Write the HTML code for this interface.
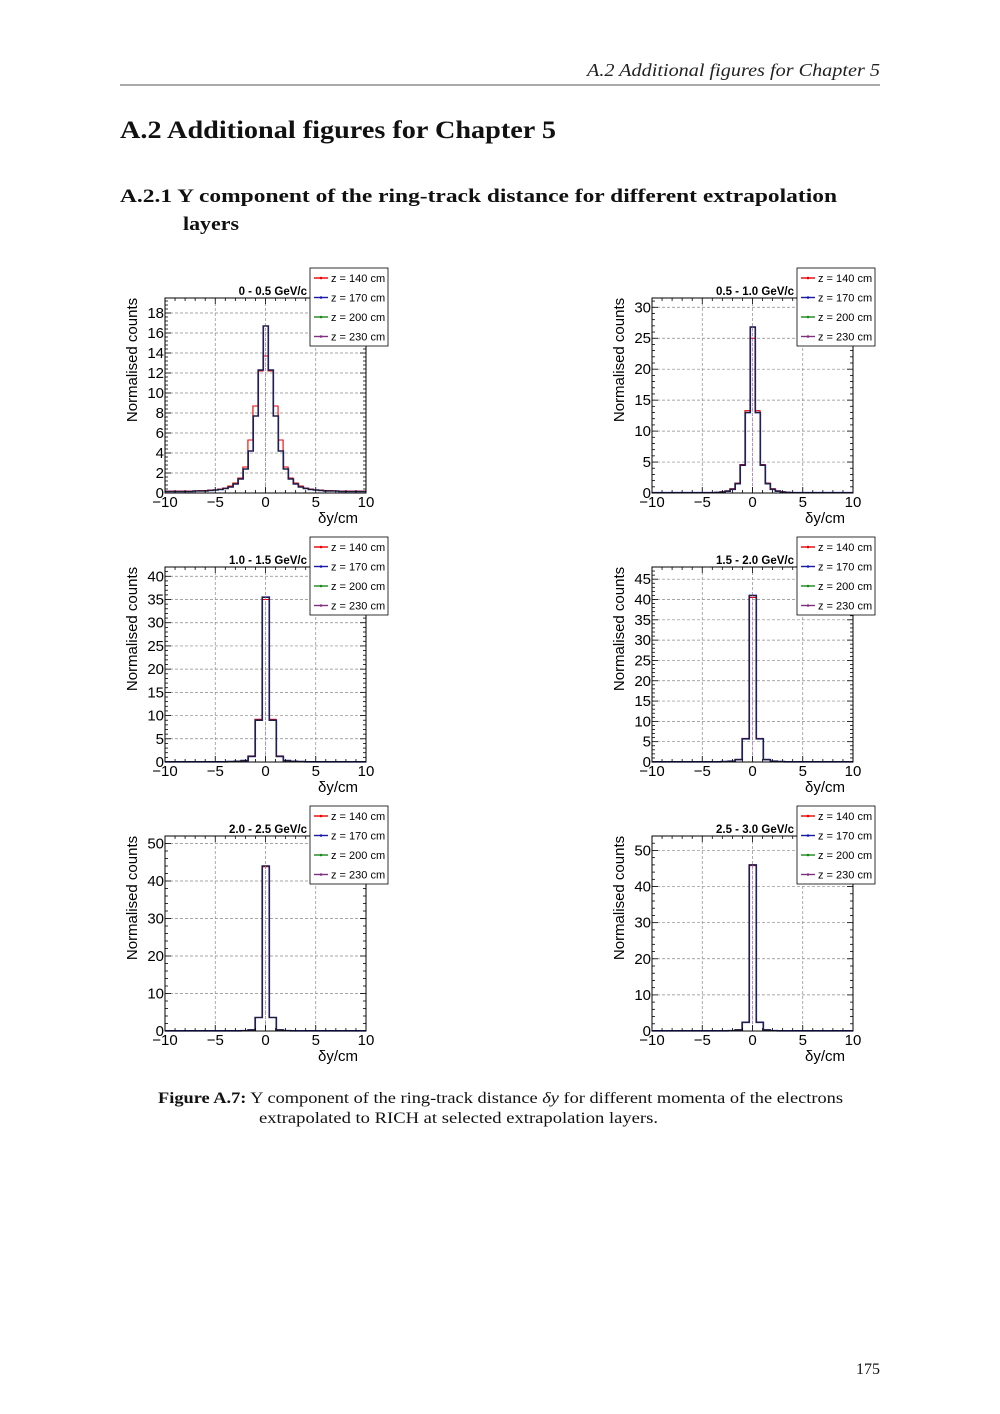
<!DOCTYPE html>
<html><head><meta charset="utf-8"><style>
html,body{margin:0;padding:0;background:#fff;}
svg{display:block;}
.serif{font-family:"Liberation Serif",serif;}
</style></head><body>
<svg id="pg" width="1000" height="1414" viewBox="0 0 1000 1414" xmlns="http://www.w3.org/2000/svg">
<text x="587" y="76" textLength="293" lengthAdjust="spacingAndGlyphs" class="serif" font-size="18" font-style="italic" fill="#222">A.2  Additional figures for Chapter 5</text>
<line x1="120" y1="85" x2="880" y2="85" stroke="#555" stroke-width="1"/>
<text x="120" y="138" textLength="436" lengthAdjust="spacingAndGlyphs" class="serif" font-size="25" font-weight="bold" fill="#111">A.2  Additional figures for Chapter 5</text>
<text x="120" y="202" textLength="717" lengthAdjust="spacingAndGlyphs" class="serif" font-size="19" font-weight="bold" fill="#111">A.2.1  Y component of the ring-track distance for different extrapolation</text>
<text x="183" y="230" textLength="56" lengthAdjust="spacingAndGlyphs" class="serif" font-size="19" font-weight="bold" fill="#111">layers</text>
<text x="158" y="1103" textLength="685" lengthAdjust="spacingAndGlyphs" class="serif" font-size="15.5" fill="#111"><tspan font-weight="bold">Figure A.7:</tspan> Y component of the ring-track distance <tspan font-style="italic">δy</tspan> for different momenta of the electrons</text>
<text x="259" y="1123" textLength="399" lengthAdjust="spacingAndGlyphs" class="serif" font-size="15.5" fill="#111">extrapolated to RICH at selected extrapolation layers.</text>
<text x="880" y="1374" text-anchor="end" class="serif" font-size="16" fill="#111">175</text>
<g id="plots"></g>
</svg>
<script>
var NS="http://www.w3.org/2000/svg";
var g=document.getElementById('plots');
function el(t,a,txt){var e=document.createElementNS(NS,t);for(var k in a)e.setAttribute(k,a[k]);if(txt!==undefined)e.textContent=txt;g.appendChild(e);return e;}
var panels=[
 {dx:0,dy:0,title:"0 - 0.5 GeV/c",ymax:19.5,yt:[0,2,4,6,8,10,12,14,16,18],w:0.5,
  blk:[16.7,12.3,7.7,4.2,2.4,1.4,0.9,0.6,0.45,0.35,0.3,0.25,0.2,0.2,0.2,0.15,0.15,0.15,0.15,0.15],
  red:[13.7,12.2,8.7,5.3,2.6,1.5,1.0,0.7,0.5,0.4,0.3,0.3,0.25,0.25,0.2,0.2,0.2,0.2,0.2,0.2]},
 {dx:487,dy:0,title:"0.5 - 1.0 GeV/c",ymax:31.5,yt:[0,5,10,15,20,25,30],w:0.5,
  blk:[26.8,13,4.5,1.5,0.6,0.3,0.15,0.1,0.05,0.05],
  red:[25,13.3,4.6,1.6,0.7,0.35,0.2,0.1,0.05,0.05]},
 {dx:0,dy:269,title:"1.0 - 1.5 GeV/c",ymax:42,yt:[0,5,10,15,20,25,30,35,40],w:0.7,
  blk:[35.5,9,1.2,0.3,0.15,0.1,0.05],red:[35,9.2,1.3,0.3,0.15,0.1,0.05]},
 {dx:487,dy:269,title:"1.5 - 2.0 GeV/c",ymax:48,yt:[0,5,10,15,20,25,30,35,40,45],w:0.7,
  blk:[41,5.7,0.6,0.2,0.1,0.05],red:[40.5,5.8,0.6,0.2,0.1,0.05]},
 {dx:0,dy:538,title:"2.0 - 2.5 GeV/c",ymax:52,yt:[0,10,20,30,40,50],w:0.7,
  blk:[44,3.6,0.3,0.1,0.05],red:[43.8,3.6,0.3,0.1,0.05]},
 {dx:487,dy:538,title:"2.5 - 3.0 GeV/c",ymax:54,yt:[0,10,20,30,40,50],w:0.7,
  blk:[46,2.4,0.3,0.1,0.05],red:[45.8,2.4,0.3,0.1,0.05]}
];
panels.forEach(function(p){
 var x0=165+p.dx,x1=366+p.dx,y0=493+p.dy,y1=298+p.dy;
 var X=function(v){return x0+(v+10)*(x1-x0)/20;};
 var Y=function(v){return y0-v*(y0-y1)/p.ymax;};
 [-5,0,5].forEach(function(v){el('line',{x1:X(v),x2:X(v),y1:y1,y2:y0,stroke:'#888','stroke-width':0.7,'stroke-dasharray':'3,2'});});
 p.yt.forEach(function(v){if(v>0)el('line',{x1:x0,x2:x1,y1:Y(v),y2:Y(v),stroke:'#888','stroke-width':0.7,'stroke-dasharray':'3,2'});});
 function hist(vals,col,sh,sw){
  var n=Math.round(10/p.w)+1,pts=[];
  for(var i=-n;i<=n;i++){var a=Math.abs(i);var v=a<vals.length?vals[a]:(vals[vals.length-1]);
   var l=i*p.w-p.w/2+sh,r=i*p.w+p.w/2+sh;if(r<-10||l>10)continue;l=Math.max(l,-10);r=Math.min(r,10);pts.push([l,r,v]);}
  var d="M"+X(pts[0][0])+","+Y(pts[0][2]);
  pts.forEach(function(q,k){if(k>0)d+=" L"+X(q[0])+","+Y(q[2]);d+=" L"+X(q[1])+","+Y(q[2]);});
  el('path',{d:d,fill:'none',stroke:col,'stroke-width':sw});
 }
 hist(p.red,'#e00',0,1.1);
 hist(p.blk,'#1a1aa8',0.03,1.6);
 hist(p.blk,'#222',0,1.0);
 el('line',{x1:X(0),x2:X(0),y1:Y(p.blk[0]),y2:y0,stroke:'#c060c0','stroke-width':0.6,'stroke-dasharray':'1,1'});
 el('rect',{x:x0,y:y1,width:x1-x0,height:y0-y1,fill:'none',stroke:'#000','stroke-width':1});
 for(var v=-10;v<=10;v+=1){var L=(v%5==0)?6:3;el('line',{x1:X(v),x2:X(v),y1:y0,y2:y0-L,stroke:'#000','stroke-width':0.8});el('line',{x1:X(v),x2:X(v),y1:y1,y2:y1+L,stroke:'#000','stroke-width':0.8});}
 [-10,-5,0,5,10].forEach(function(v){el('text',{x:X(v),y:y0+14,'text-anchor':'middle','font-size':15,'font-family':'Liberation Sans,sans-serif'},v<0?'\u2212'+(-v):''+v);});
 var st=p.yt[1]-p.yt[0];
 for(var v=0;v<=p.ymax;v+=st/5){var major=Math.abs(v/st-Math.round(v/st))<0.01;var L=major?6:3;el('line',{x1:x0,x2:x0+L,y1:Y(v),y2:Y(v),stroke:'#000','stroke-width':0.8});el('line',{x1:x1,x2:x1-L,y1:Y(v),y2:Y(v),stroke:'#000','stroke-width':0.8});}
 p.yt.forEach(function(v){el('text',{x:x0-1,y:Y(v)+5,'text-anchor':'end','font-size':15,'font-family':'Liberation Sans,sans-serif'},''+v);});
 el('text',{x:x1-28,y:y0+30,'text-anchor':'middle','font-size':15,'font-family':'Liberation Sans,sans-serif'},'δy/cm');
 var ly=y1+62;
 el('text',{x:137+p.dx,y:ly,'text-anchor':'middle','font-size':15,'font-family':'Liberation Sans,sans-serif',transform:'rotate(-90 '+(137+p.dx)+' '+ly+')'},'Normalised counts');
 el('text',{x:x1-59,y:y1-3,'text-anchor':'end','font-size':11.5,'font-weight':'bold','font-family':'Liberation Sans,sans-serif'},p.title);
 var lx=310+p.dx,lyy=268+p.dy;
 el('rect',{x:lx,y:lyy,width:78,height:78,fill:'#fff',stroke:'#000','stroke-width':0.8});
 var cols=['#e00','#1a1aa8','#1a8a1a','#803080'],labs=['z = 140 cm','z = 170 cm','z = 200 cm','z = 230 cm'];
 for(var i=0;i<4;i++){var yy=lyy+10+i*19.5;el('line',{x1:lx+4,x2:lx+18,y1:yy,y2:yy,stroke:cols[i],'stroke-width':1.4});el('circle',{cx:lx+11,cy:yy,r:1.3,fill:cols[i]});
  el('text',{x:lx+21,y:yy+4,'font-size':11,'font-family':'Liberation Sans,sans-serif'},labs[i]);}
});
</script>
</body></html>
